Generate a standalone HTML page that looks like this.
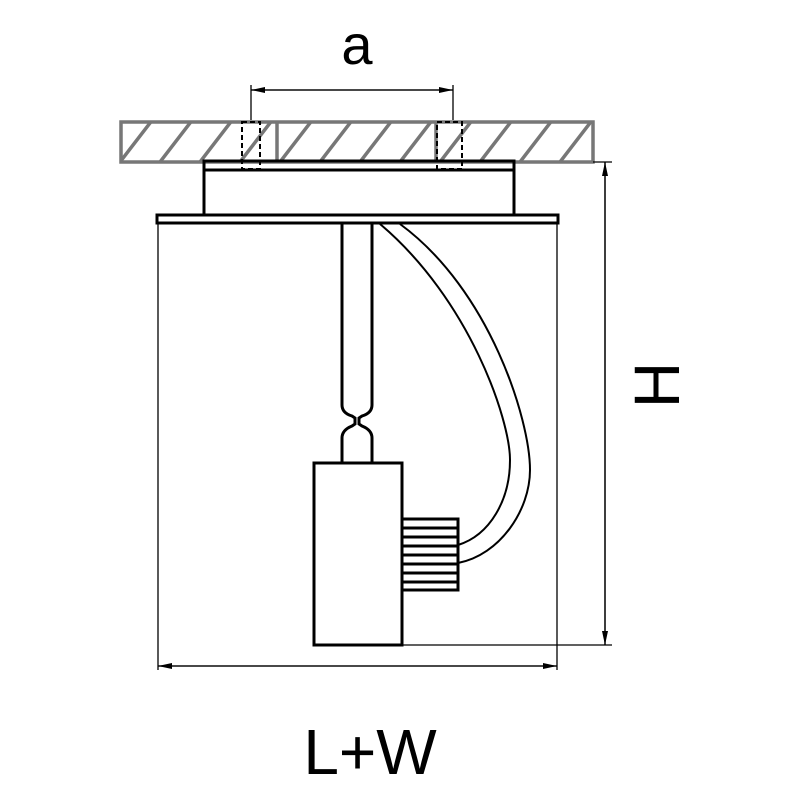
<!DOCTYPE html>
<html><head><style>body{margin:0;background:#fff}</style></head><body>
<svg width="800" height="800" xmlns="http://www.w3.org/2000/svg">
<defs>
<clipPath id="c"><rect x="121" y="122" width="472" height="40"/></clipPath>
<marker id="ar" markerWidth="14" markerHeight="8" refX="14" refY="4" orient="auto" markerUnits="userSpaceOnUse"><path d="M0,1 L14,4 L0,7 Z" fill="#000"/></marker>
</defs>
<g clip-path="url(#c)" stroke="#777" stroke-width="3.5">
<path d="M110,175 L160,110 M150,175 L200,110 M190,175 L240,110 M230,175 L280,110 M270,175 L320,110 M310,175 L360,110 M350,175 L400,110 M390,175 L440,110 M430,175 L480,110 M470,175 L520,110 M510,175 L560,110 M550,175 L600,110 M590,175 L640,110"/>
</g>
<g fill="none" stroke="#777" stroke-width="3.5">
<rect x="121" y="122" width="472" height="40"/>
<line x1="277" y1="122" x2="277" y2="162"/><line x1="436" y1="122" x2="436" y2="162"/>
</g>
<g fill="none" stroke="#000" stroke-width="2" stroke-dasharray="5,3">
<rect x="242" y="122" width="18" height="47"/><rect x="437" y="122" width="25" height="47"/>
</g>
<g fill="none" stroke="#000" stroke-width="1.3">
<line x1="251" y1="85" x2="251" y2="120"/><line x1="453" y1="85" x2="453" y2="120"/>
<line x1="251" y1="90" x2="453" y2="90" marker-end="url(#ar)"/><line x1="453" y1="90" x2="251" y2="90" marker-end="url(#ar)"/>
<line x1="158" y1="224" x2="158" y2="670"/><line x1="557" y1="224" x2="557" y2="670"/>
<line x1="158" y1="666" x2="557" y2="666" marker-end="url(#ar)"/><line x1="557" y1="666" x2="158" y2="666" marker-end="url(#ar)"/>
<line x1="593" y1="162" x2="612" y2="162"/><line x1="402" y1="645" x2="612" y2="645"/>
<line x1="605" y1="162" x2="605" y2="645" marker-end="url(#ar)"/><line x1="605" y1="645" x2="605" y2="162" marker-end="url(#ar)"/>
</g>
<g fill="none" stroke="#000" stroke-width="3">
<rect x="204" y="161" width="310" height="9"/>
<rect x="204" y="170" width="310" height="45"/>
<rect x="157" y="215" width="401" height="8"/>
<path d="M342,224 L342,405 Q342,413 352,416 L355,418 L355,424 L352,426 Q342,430 342,438 L342,463 M372,224 L372,405 Q372,413 362,416 L359,418 L359,424 L362,426 Q372,430 372,438 L372,463"/>
<rect x="314" y="463" width="88" height="182"/>
<rect x="402" y="519" width="56" height="71"/>
</g>
<g stroke="#000" stroke-width="3"><path d="M402,528H458M402,537H458M402,546H458M402,555H458M402,564H458M402,573H458M402,582H458"/></g>
<g fill="none" stroke="#000" stroke-width="2">
<path d="M380,224 C470,300 510,420 510,460 C510,500 490,535 458,545"/>
<path d="M400,224 C490,290 530,420 530,470 C530,510 500,555 458,563"/>
</g>
<g font-family="Liberation Sans, sans-serif" fill="#000">
<text x="357" y="64" font-size="56" text-anchor="middle">a</text>
<text x="370" y="774" font-size="64" text-anchor="middle">L+W</text>
<text transform="translate(679,385) rotate(-90)" font-size="64" text-anchor="middle">H</text>
</g>
</svg>
</body></html>
